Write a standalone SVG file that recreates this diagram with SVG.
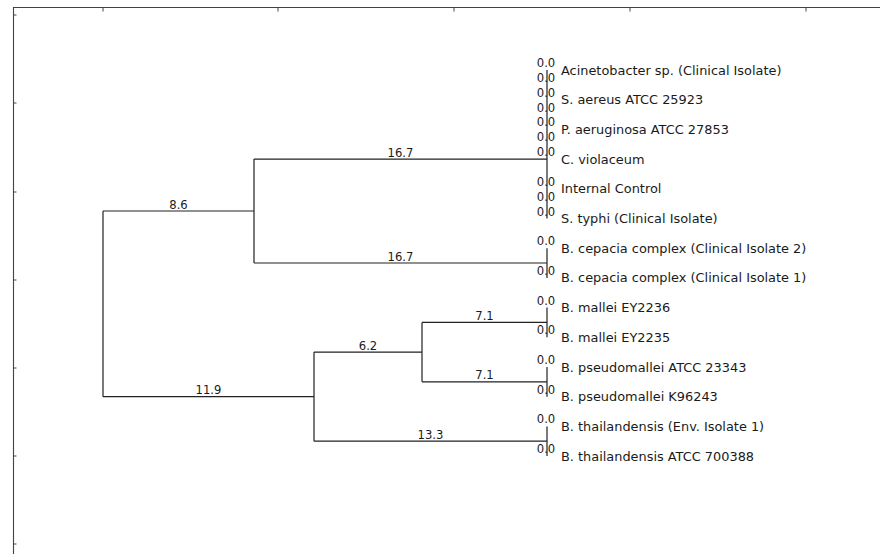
<svg xmlns="http://www.w3.org/2000/svg" width="880" height="554" viewBox="0 0 880 554">
<style>
.frame{stroke:#444;stroke-width:1.1;fill:none}
.tick{stroke:#444;stroke-width:1}
.br{stroke:#222;stroke-width:1.2;fill:none}
.lbl{font-family:"DejaVu Sans","Liberation Sans",sans-serif;font-size:12.9px;fill:#1a1a1a}
.num{font-family:"DejaVu Sans","Liberation Sans",sans-serif;font-size:11.6px;fill:#1a1a1a;text-anchor:middle}
</style>
<rect width="880" height="554" fill="#fff"/>
<g id="axes">
<path class="frame" d="M13.5,554 V7.5 H880"/>
<path class="tick" d="M13.5,15 h3 M13.5,103 h3 M13.5,192 h3 M13.5,280 h3 M13.5,368 h3 M13.5,456 h3 M13.5,544 h3"/>
<path class="tick" d="M103,7.5 v4 M278,7.5 v4 M454,7.5 v4 M630,7.5 v4 M806,7.5 v4"/>
</g>
<g id="connectors">
<path class="br" d="M547,70 V218.5 M547,248.2 V277.9 M547,307.6 V337.3 M547,367 V396.7 M547,426.4 V456.1"/>
<path class="br" d="M254,159.1 H547 M254,263 H547 M254,159.1 V263"/>
<path class="br" d="M103,211 H254 M103,211 V396.7 M103,396.7 H314"/>
<path class="br" d="M314,352.1 V441.2 M314,352.1 H422 M314,441.2 H547"/>
<path class="br" d="M422,322.4 V381.8 M422,322.4 H547 M422,381.8 H547"/>
</g>
<g id="branch-labels">
<text class="num" x="178.5" y="208.5">8.6</text>
<text class="num" x="400.5" y="156.6">16.7</text>
<text class="num" x="400.5" y="260.5">16.7</text>
<text class="num" x="208.5" y="394.2">11.9</text>
<text class="num" x="368" y="349.6">6.2</text>
<text class="num" x="484.5" y="319.9">7.1</text>
<text class="num" x="484.5" y="379.3">7.1</text>
<text class="num" x="430.5" y="438.7">13.3</text>
</g>
<g id="zero-labels">
<text class="num" x="546" y="67">0.0</text>
<text class="num" x="546" y="81.9">0.0</text>
<text class="num" x="546" y="96.7">0.0</text>
<text class="num" x="546" y="111.6">0.0</text>
<text class="num" x="546" y="126.4">0.0</text>
<text class="num" x="546" y="141.3">0.0</text>
<text class="num" x="546" y="156.1">0.0</text>
<text class="num" x="546" y="185.8">0.0</text>
<text class="num" x="546" y="200.7">0.0</text>
<text class="num" x="546" y="215.5">0.0</text>
<text class="num" x="546" y="245.2">0.0</text>
<text class="num" x="546" y="274.9">0.0</text>
<text class="num" x="546" y="304.6">0.0</text>
<text class="num" x="546" y="334.3">0.0</text>
<text class="num" x="546" y="364">0.0</text>
<text class="num" x="546" y="393.7">0.0</text>
<text class="num" x="546" y="423.4">0.0</text>
<text class="num" x="546" y="453.1">0.0</text>
</g>
<g id="leaf-acinetobacter"><text class="lbl" x="561" y="74.5">Acinetobacter sp. (Clinical Isolate)</text></g>
<g id="leaf-saureus"><text class="lbl" x="561" y="104.2">S. aereus ATCC 25923</text></g>
<g id="leaf-paeruginosa"><text class="lbl" x="561" y="133.9">P. aeruginosa ATCC 27853</text></g>
<g id="leaf-cviolaceum"><text class="lbl" x="561" y="163.6">C. violaceum</text></g>
<g id="leaf-internal"><text class="lbl" x="561" y="193.3">Internal Control</text></g>
<g id="leaf-styphi"><text class="lbl" x="561" y="223">S. typhi (Clinical Isolate)</text></g>
<g id="leaf-bcepacia2"><text class="lbl" x="561" y="252.7">B. cepacia complex (Clinical Isolate 2)</text></g>
<g id="leaf-bcepacia1"><text class="lbl" x="561" y="282.4">B. cepacia complex (Clinical Isolate 1)</text></g>
<g id="leaf-bmallei36"><text class="lbl" x="561" y="312.1">B. mallei EY2236</text></g>
<g id="leaf-bmallei35"><text class="lbl" x="561" y="341.8">B. mallei EY2235</text></g>
<g id="leaf-bpseudo-atcc"><text class="lbl" x="561" y="371.5">B. pseudomallei ATCC 23343</text></g>
<g id="leaf-bpseudo-k"><text class="lbl" x="561" y="401.2">B. pseudomallei K96243</text></g>
<g id="leaf-bthai-env"><text class="lbl" x="561" y="430.9">B. thailandensis (Env. Isolate 1)</text></g>
<g id="leaf-bthai-atcc"><text class="lbl" x="561" y="460.6">B. thailandensis ATCC 700388</text></g>
</svg>
